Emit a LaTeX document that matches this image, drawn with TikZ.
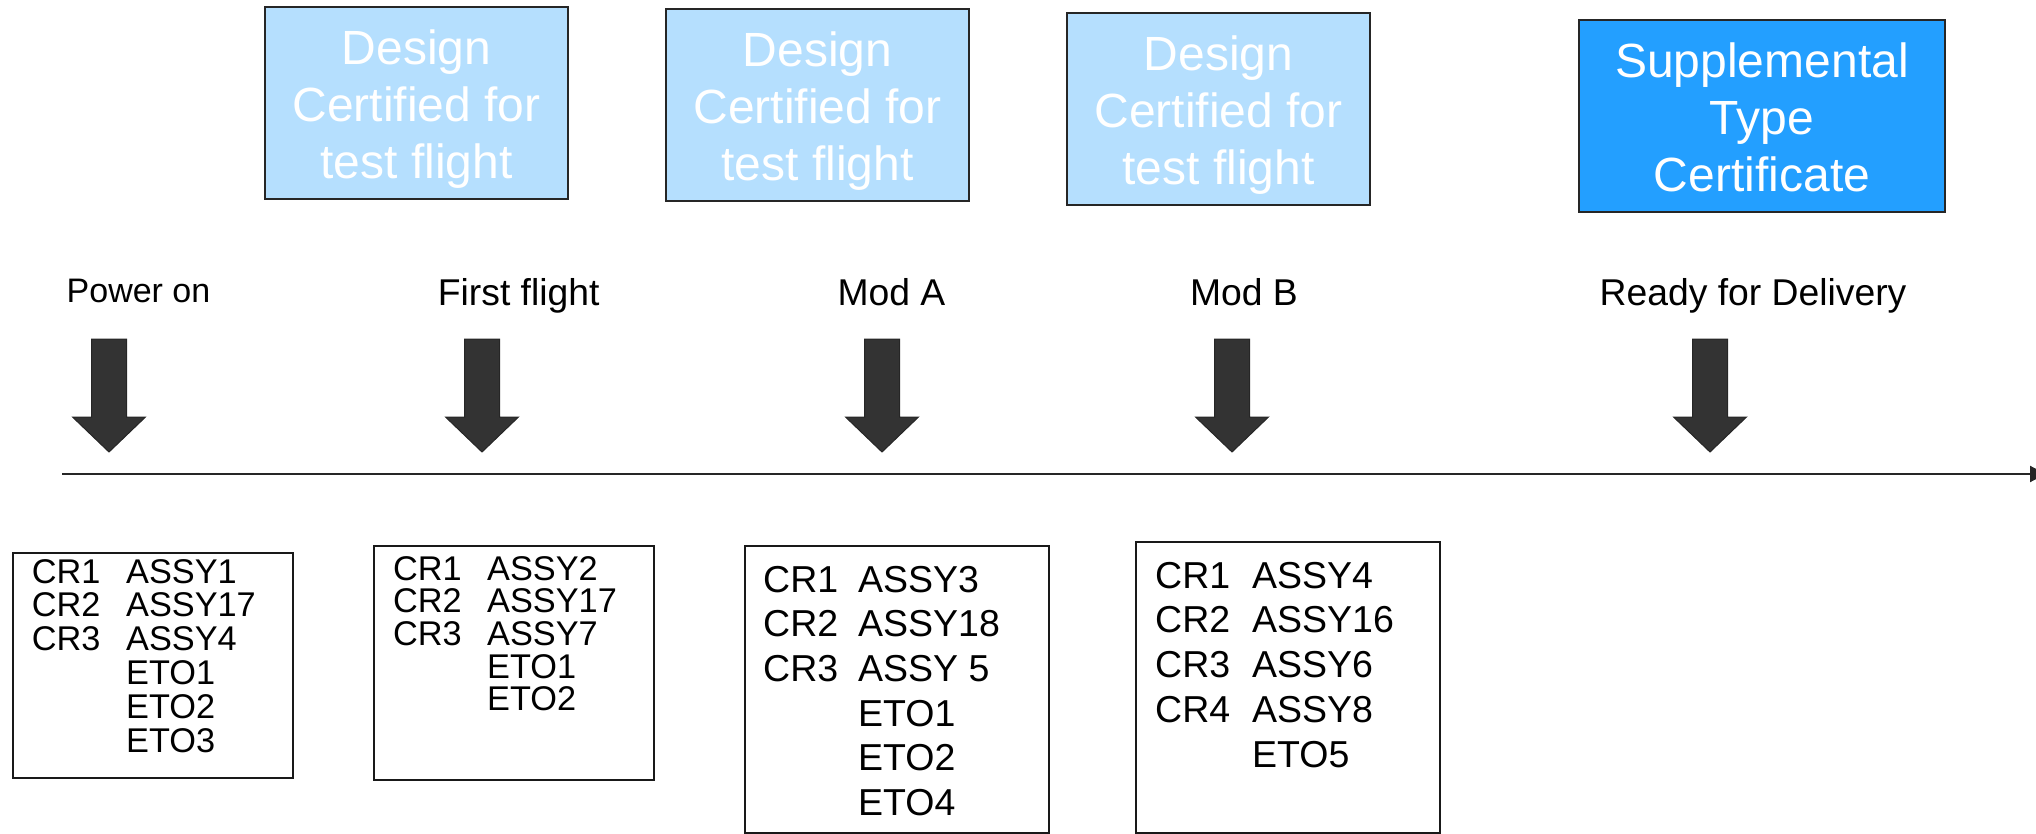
\documentclass[tikz,border=0pt]{standalone}
\usepackage{fontspec}
\setmainfont{Liberation Sans}
\usetikzlibrary{arrows.meta}
\definecolor{lightcert}{HTML}{B5DFFE}
\definecolor{darkcert}{HTML}{239FFF}
\definecolor{edgegray}{HTML}{262626}
\definecolor{arrowgray}{HTML}{333333}
\begin{document}
\begin{tikzpicture}[x=1pt,y=-1pt,
  certbox/.style={draw=edgegray, line width=2.5pt, minimum width=303pt, minimum height=192pt, inner sep=0pt},
  certtext/.style={text=white, align=center, inner sep=0pt, font=\fontsize{48}{57}\selectfont},
  milestone/.style={anchor=base, inner sep=0pt, font=\fontsize{37.3}{42}\selectfont},
  listbox/.style={draw=black!90, line width=1.8pt, anchor=north west, inner sep=0pt},
  listtext/.style={anchor=base west, inner sep=0pt},
  smalllist/.style={listtext, font=\fontsize{34.3}{33}\selectfont},
  biglist/.style={listtext, font=\fontsize{37.5}{44.7}\selectfont},
  downarrow/.pic={\path[fill=arrowgray, draw=edgegray, line width=1pt]
     (-17.5,0) -- (17.5,0) -- (17.5,78) -- (36.5,78) -- (0,113) -- (-36.5,78) -- (-17.5,78) -- cycle;}
]
\useasboundingbox (0,0) rectangle (2036,834);

% top certification boxes
\node[certbox, fill=lightcert] (c1) at (416.5,103)
  [label={[certtext, yshift=-6pt]center:{Design\\Certified for\\test flight}}] {};
\node[certbox, fill=lightcert] (c2) at (817.5,105)
  [label={[certtext, yshift=-6pt]center:{Design\\Certified for\\test flight}}] {};
\node[certbox, fill=lightcert] (c3) at (1218.5,109)
  [label={[certtext, yshift=-6pt]center:{Design\\Certified for\\test flight}}] {};
\node[certbox, fill=darkcert, minimum width=366pt] (c4) at (1762,116)
  [label={[certtext, yshift=-1pt]center:{Supplemental\\Type\\Certificate}}] {};

% milestone labels
\node[milestone, font=\fontsize{34}{39}\selectfont] (m1) at (138.5,302) {Power on};
\node[milestone] (m2) at (518.7,305) {First flight};
\node[milestone] (m3) at (891.4,305) {Mod A};
\node[milestone] (m4) at (1244,305) {Mod B};
\node[milestone] (m5) at (1753,305) {Ready for Delivery};

% block arrows
\pic (a1) at (109,339) {downarrow};
\pic (a2) at (482,339) {downarrow};
\pic (a3) at (882,339) {downarrow};
\pic (a4) at (1232,339) {downarrow};
\pic (a5) at (1710,339) {downarrow};

% timeline
\coordinate (t0) at (62,474);
\coordinate (t1) at (2046,474);
\draw[line width=2pt, draw=edgegray, -{Triangle[length=16pt,width=16pt]}] (t0) -- (t1);

% lists
\node[listbox, minimum width=280pt, minimum height=225pt] (b1) at (12,552) {};
\node[smalllist] (b1t) at (31.7,583) {\begin{tabular}[t]{@{}p{94.3pt}@{}l@{}}
CR1 & ASSY1\\ CR2 & ASSY17\\ CR3 & ASSY4\\ & ETO1\\ & ETO2\\ & ETO3\end{tabular}};

\node[listbox, minimum width=280pt, minimum height=234pt] (b2) at (373,545) {};
\node[smalllist, font=\fontsize{34.3}{29.3}\selectfont] (b2t) at (393,580) {\begin{tabular}[t]{@{}p{94pt}@{}l@{}}
CR1 & ASSY2\\ CR2 & ASSY17\\ CR3 & ASSY7\\ & ETO1\\ & ETO2\end{tabular}};

\node[listbox, minimum width=304pt, minimum height=287pt] (b3) at (744,545) {};
\node[biglist] (b3t) at (763,592) {\begin{tabular}[t]{@{}p{95pt}@{}l@{}}
CR1 & ASSY3\\ CR2 & ASSY18\\ CR3 & ASSY 5\\ & ETO1\\ & ETO2\\ & ETO4\end{tabular}};

\node[listbox, minimum width=304pt, minimum height=291pt] (b4) at (1135,541) {};
\node[biglist, font=\fontsize{37.5}{44.8}\selectfont] (b4t) at (1155,588) {\begin{tabular}[t]{@{}p{97pt}@{}l@{}}
CR1 & ASSY4\\ CR2 & ASSY16\\ CR3 & ASSY6\\ CR4 & ASSY8\\ & ETO5\end{tabular}};
\end{tikzpicture}
\end{document}
